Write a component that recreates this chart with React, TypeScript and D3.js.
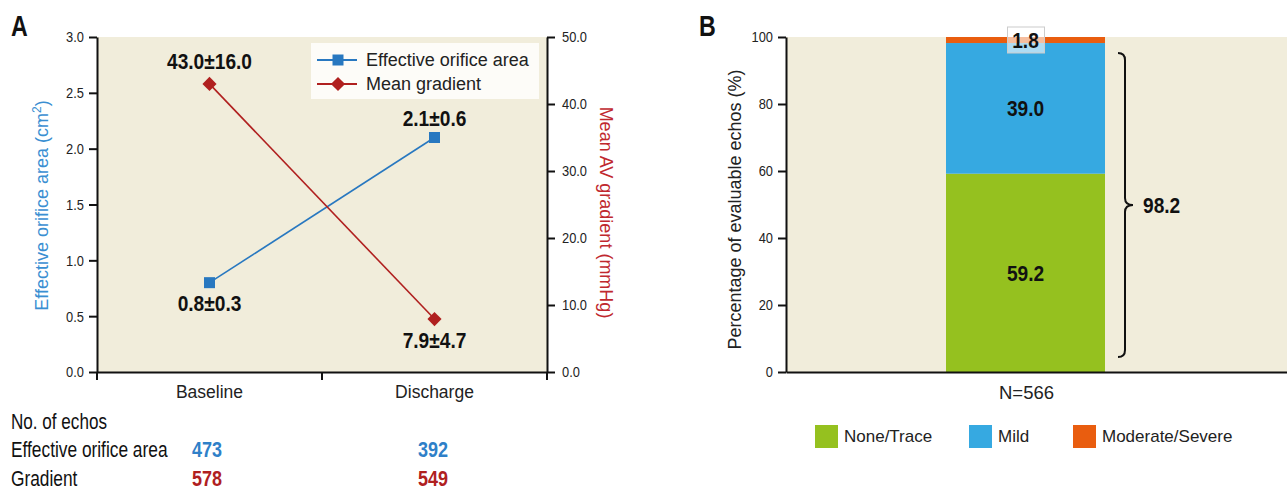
import { useEffect, useRef } from 'react'
import * as d3 from 'd3'

// Panel A data
const timepoints = ['Baseline', 'Discharge']
const eoaValues = [0.8, 2.1]
const eoaLabels = ['0.8±0.3', '2.1±0.6']
const gradientValues = [43.0, 7.9]
const gradientLabels = ['43.0±16.0', '7.9±4.7']
const eoaTicks = [0, 0.5, 1.0, 1.5, 2.0, 2.5, 3.0]
const gradientTicks = [0, 10, 20, 30, 40, 50]
const echoCountsEoa = [473, 392]
const echoCountsGradient = [578, 549]

// Panel B data
const regurgCategories = ['None/Trace', 'Mild', 'Moderate/Severe']
const regurgValues = [59.2, 39.0, 1.8]
const regurgColors = ['#95c11f', '#36a9e1', '#e95d0f']
const percentTicks = [0, 20, 40, 60, 80, 100]
const sampleLabel = 'N=566'
const braceLabel = '98.2'

const BLUE = '#2878c0'
const RED = '#b0201f'
const BG = '#f1eddb'
const SANS = '"Liberation Sans", Arial, sans-serif'

type Sel = d3.Selection<SVGSVGElement, unknown, null, undefined>

// narrow text: Liberation Sans squeezed horizontally, to stand in for the condensed face
function ctext(parent: Sel, x: number, y: number, s: string, size: number, sx: number, opts: { bold?: boolean, anchor?: string, fill?: string } = {}) {
  return parent.append('text')
    .attr('transform', `translate(${x},${y}) scale(${sx},1)`)
    .attr('font-family', SANS)
    .attr('font-size', size)
    .attr('font-weight', opts.bold ? 'bold' : 'normal')
    .attr('text-anchor', opts.anchor || 'start')
    .attr('fill', opts.fill || '#111')
    .text(s)
}

function styleAxis(g: d3.Selection<SVGGElement, unknown, null, undefined>, side: 'left' | 'right') {
  g.select('.domain').attr('stroke', '#111').attr('stroke-width', 2)
  g.selectAll('.tick line').attr('stroke', '#111').attr('stroke-width', 2)
  g.selectAll('.tick text')
    .attr('x', null)
    .attr('transform', side === 'left' ? 'translate(-13,0) scale(0.83,1)' : 'translate(15,0) scale(0.83,1)')
    .attr('font-family', SANS).attr('font-size', 15.5).attr('fill', '#222')
}

export default function App() {
  const svgRef = useRef<SVGSVGElement>(null)

  useEffect(() => {
    if (!svgRef.current) return
    const svg = d3.select(svgRef.current) as Sel
    svg.selectAll('*').remove()

    // ---------- Panel A ----------
    const a = { left: 97, right: 547, top: 37, bottom: 372 }
    const x = d3.scaleBand().domain(timepoints).range([a.left, a.right])
    const yL = d3.scaleLinear().domain([0, 3]).range([a.bottom, a.top])
    const yR = d3.scaleLinear().domain([0, 50]).range([a.bottom, a.top])
    const cx = (i: number) => x(timepoints[i])! + x.bandwidth() / 2

    ctext(svg, 11, 36, 'A', 29, 0.8, { bold: true })

    svg.append('rect').attr('x', a.left).attr('y', a.top)
      .attr('width', a.right - a.left).attr('height', a.bottom - a.top).attr('fill', BG)

    const leftAxis = svg.append('g').attr('transform', `translate(${a.left},0)`)
      .call(d3.axisLeft(yL).tickValues(eoaTicks).tickFormat(d3.format('.1f')).tickSize(8).tickSizeOuter(0))
    const rightAxis = svg.append('g').attr('transform', `translate(${a.right},0)`)
      .call(d3.axisRight(yR).tickValues(gradientTicks).tickFormat(d3.format('.1f')).tickSize(8).tickSizeOuter(0))
    const bottomAxis = svg.append('g').attr('transform', `translate(0,${a.bottom})`)
      .call(d3.axisBottom(x).tickValues([]).tickSizeOuter(0))
    styleAxis(leftAxis, 'left')
    styleAxis(rightAxis, 'right')
    bottomAxis.select('.domain').attr('stroke', '#111').attr('stroke-width', 2)
    ;[a.left, (a.left + a.right) / 2, a.right].forEach(t => {
      svg.append('line').attr('x1', t).attr('x2', t).attr('y1', a.bottom).attr('y2', a.bottom + 8)
        .attr('stroke', '#111').attr('stroke-width', 2)
    })

    timepoints.forEach((t, i) => {
      ctext(svg, cx(i), 398, t, 17.5, 1, { anchor: 'middle', fill: '#222' })
    })

    svg.append('text').attr('transform', `translate(48,${(a.top + a.bottom) / 2 + 1}) rotate(-90)`)
      .attr('text-anchor', 'middle').attr('font-family', SANS).attr('font-size', 18).attr('fill', '#3a8fd2')
      .html('Effective orifice area (cm<tspan dy="-7" font-size="12">2</tspan><tspan dy="7">)</tspan>')
    svg.append('text').attr('transform', `translate(600,${(a.top + a.bottom) / 2 + 8}) rotate(90)`)
      .attr('text-anchor', 'middle').attr('font-family', SANS).attr('font-size', 18).attr('fill', '#c0282e')
      .text('Mean AV gradient (mmHg)')

    const lineL = d3.line<number>().x((_, i) => cx(i)).y(d => yL(d))
    const lineR = d3.line<number>().x((_, i) => cx(i)).y(d => yR(d))
    svg.append('path').attr('d', lineL(eoaValues)!).attr('fill', 'none').attr('stroke', BLUE).attr('stroke-width', 1.6)
    svg.append('path').attr('d', lineR(gradientValues)!).attr('fill', 'none').attr('stroke', RED).attr('stroke-width', 1.6)

    eoaValues.forEach((v, i) => {
      svg.append('rect').attr('x', cx(i) - 5.5).attr('y', yL(v) - 5.5).attr('width', 11).attr('height', 11).attr('fill', BLUE)
    })
    gradientValues.forEach((v, i) => {
      svg.append('rect').attr('x', -5).attr('y', -5).attr('width', 10).attr('height', 10).attr('fill', RED)
        .attr('transform', `translate(${cx(i)},${yR(v)}) rotate(45)`)
    })

    const valueLabel = (tx: number, ty: number, s: string) =>
      ctext(svg, tx, ty, s, 22, 0.87, { bold: true, anchor: 'middle' })
    valueLabel(cx(0), yR(gradientValues[0]) - 15, gradientLabels[0])
    valueLabel(cx(1), yR(gradientValues[1]) + 29, gradientLabels[1])
    valueLabel(cx(0), yL(eoaValues[0]) + 28, eoaLabels[0])
    valueLabel(cx(1), yL(eoaValues[1]) - 12, eoaLabels[1])

    // legend
    const lg = svg.append('g').attr('transform', 'translate(311,43)')
    lg.append('rect').attr('width', 228).attr('height', 56).attr('fill', '#fdfcf8')
    ;[
      { label: 'Effective orifice area', color: BLUE, diamond: false },
      { label: 'Mean gradient', color: RED, diamond: true }
    ].forEach((e, i) => {
      const yy = 17 + i * 24
      lg.append('line').attr('x1', 6).attr('x2', 46).attr('y1', yy).attr('y2', yy).attr('stroke', e.color).attr('stroke-width', 2.2)
      if (e.diamond) {
        lg.append('rect').attr('x', -5).attr('y', -5).attr('width', 10).attr('height', 10).attr('fill', e.color)
          .attr('transform', `translate(27,${yy}) rotate(45)`)
      } else {
        lg.append('rect').attr('x', 21.5).attr('y', yy - 5.5).attr('width', 11).attr('height', 11).attr('fill', e.color)
      }
      lg.append('text').attr('x', 55).attr('y', yy + 6).attr('font-family', SANS).attr('font-size', 18).attr('fill', '#222').text(e.label)
    })

    // echo counts table
    ctext(svg, 11, 429, 'No. of echos', 22.5, 0.76)
    ctext(svg, 11, 457, 'Effective orifice area', 22.5, 0.77)
    ctext(svg, 11, 486, 'Gradient', 22.5, 0.77)
    const countX = [192, 418]
    echoCountsEoa.forEach((c, i) => {
      ctext(svg, countX[i], 457, String(c), 22.5, 0.8, { bold: true, fill: '#2f80c8' })
    })
    echoCountsGradient.forEach((c, i) => {
      ctext(svg, countX[i], 486, String(c), 22.5, 0.8, { bold: true, fill: RED })
    })

    // ---------- Panel B ----------
    const b = { left: 786, right: 1287, top: 37, bottom: 372 }
    const yB = d3.scaleLinear().domain([0, 100]).range([b.bottom, b.top])
    const barX = 946
    const barW = 159

    ctext(svg, 699, 36, 'B', 29, 0.8, { bold: true })

    svg.append('rect').attr('x', b.left).attr('y', b.top)
      .attr('width', b.right - b.left).attr('height', b.bottom - b.top).attr('fill', BG)

    const stackTops = d3.cumsum(regurgValues)
    regurgValues.forEach((v, i) => {
      const y1 = yB(stackTops[i])
      const y0 = yB(stackTops[i] - v)
      svg.append('rect').attr('x', barX).attr('y', y1).attr('width', barW).attr('height', y0 - y1).attr('fill', regurgColors[i])
    })

    const bAxis = svg.append('g').attr('transform', `translate(${b.left},0)`)
      .call(d3.axisLeft(yB).tickValues(percentTicks).tickSize(8).tickSizeOuter(0))
    styleAxis(bAxis, 'left')
    const bBottom = svg.append('g').attr('transform', `translate(0,${b.bottom})`)
      .call(d3.axisBottom(d3.scaleLinear().range([b.left, b.right])).tickValues([]).tickSizeOuter(0))
    bBottom.select('.domain').attr('stroke', '#111').attr('stroke-width', 2)

    svg.append('text').attr('transform', `translate(741,${(b.top + b.bottom) / 2 + 5}) rotate(-90)`)
      .attr('text-anchor', 'middle').attr('font-family', SANS).attr('font-size', 18).attr('fill', '#222')
      .text('Percentage of evaluable echos (%)')

    const bcx = barX + barW / 2
    const segLabel = (tx: number, ty: number, s: string) =>
      ctext(svg, tx, ty, s, 22, 0.87, { bold: true, anchor: 'middle' })
    segLabel(bcx, yB(regurgValues[0] / 2) + 8, regurgValues[0].toFixed(1))
    segLabel(bcx, yB(regurgValues[0] + regurgValues[1] / 2) + 8, regurgValues[1].toFixed(1))
    svg.append('rect').attr('x', bcx - 18).attr('y', 27).attr('width', 37).attr('height', 26)
      .attr('fill', '#fff').attr('fill-opacity', 0.6).attr('stroke', '#ccc').attr('stroke-width', 1)
    segLabel(bcx, 48, regurgValues[2].toFixed(1))

    // brace for None/Trace + Mild
    const bTop = yB(stackTops[1]) + 10
    const bBot = yB(0) - 15
    const bMid = (bTop + bBot) / 2
    const bx = 1125
    const r = 7
    const brace = d3.path()
    brace.moveTo(bx - r, bTop)
    brace.quadraticCurveTo(bx, bTop, bx, bTop + r)
    brace.lineTo(bx, bMid - r)
    brace.quadraticCurveTo(bx, bMid, bx + r + 1, bMid)
    brace.quadraticCurveTo(bx, bMid, bx, bMid + r)
    brace.lineTo(bx, bBot - r)
    brace.quadraticCurveTo(bx, bBot, bx - r, bBot)
    svg.append('path').attr('d', brace.toString()).attr('fill', 'none').attr('stroke', '#111').attr('stroke-width', 2)
    ctext(svg, 1143, bMid + 8, braceLabel, 22, 0.87, { bold: true })

    svg.append('text').attr('x', bcx + 1).attr('y', 399).attr('text-anchor', 'middle')
      .attr('font-family', SANS).attr('font-size', 18.5).attr('fill', '#222').text(sampleLabel)

    const legX = [815, 969, 1073]
    regurgCategories.forEach((c, i) => {
      svg.append('rect').attr('x', legX[i]).attr('y', 425).attr('width', 23).attr('height', 23).attr('fill', regurgColors[i])
      svg.append('text').attr('x', legX[i] + 29).attr('y', 442).attr('font-family', SANS).attr('font-size', 17)
        .attr('fill', '#222').text(c)
    })
  }, [])

  return (
    <div style={{ position: 'absolute', left: 0, top: 0 }}>
      <svg ref={svgRef} width={1287} height={490} style={{ display: 'block', background: '#fff' }} />
    </div>
  )
}
